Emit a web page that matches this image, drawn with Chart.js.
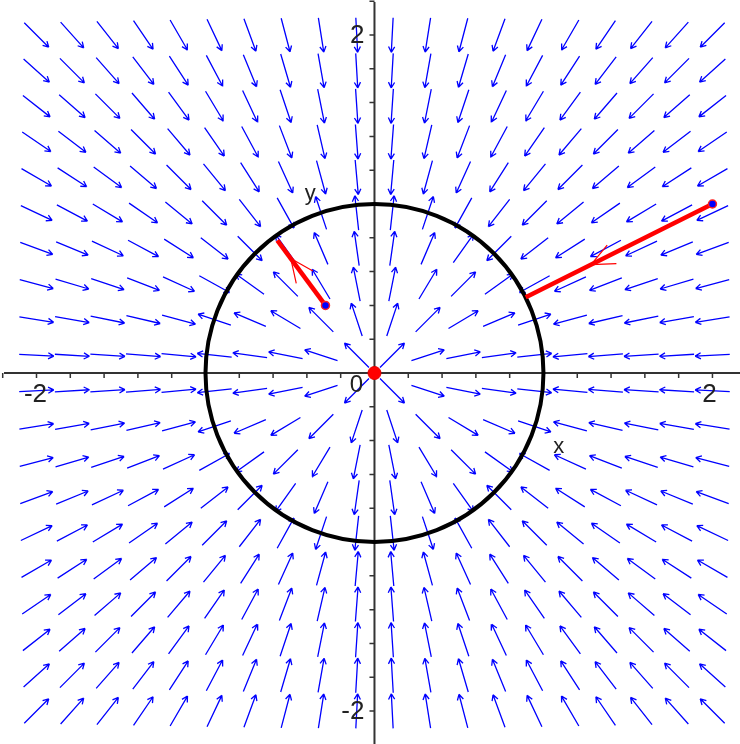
<!DOCTYPE html>
<html><head><meta charset="utf-8">
<script src="https://cdn.jsdelivr.net/npm/chart.js@4/dist/chart.umd.min.js"></script>
<style>html,body{margin:0;padding:0;background:#fff;overflow:hidden}#wrap{width:740px;height:744px;position:relative}</style>
</head><body><div id="wrap"><canvas id="c"></canvas></div>
<script>
// ---- data ----
const gridX = [-2, -1.789, -1.579, -1.368, -1.158, -0.947, -0.737, -0.526, -0.316, -0.105,
               0.105, 0.316, 0.526, 0.737, 0.947, 1.158, 1.368, 1.579, 1.789, 2];
const gridY = [-2, -1.789, -1.579, -1.368, -1.158, -0.947, -0.737, -0.526, -0.316, -0.105,
               0.105, 0.316, 0.526, 0.737, 0.947, 1.158, 1.368, 1.579, 1.789, 2];
const limitCycleRadius = 1;
const trajectoryA = [{x: 2, y: 1}, {x: 0.895, y: 0.448}];
const trajectoryB = [{x: -0.29, y: 0.4}, {x: -0.575, y: 0.785}];
const trajectoryArrowAt = [0.65, 0.72];
const startPoints = [{x: 2, y: 1}, {x: -0.29, y: 0.4}];
const equilibrium = [{x: 0, y: 0}];
const axisTicks = [-2.2, -2, -1.8, -1.6, -1.4, -1.2, -1, -0.8, -0.6, -0.4, -0.2,
                   0.2, 0.4, 0.6, 0.8, 1, 1.2, 1.4, 1.6, 1.8, 2, 2.2];
const xTickLabels = [-2, 2];
const yTickLabels = [-2, 2];
const axisNames = {x: 'x', y: 'y'};
const axisNamePos = {x: {x: 1.09, y: -0.44}, y: {x: -0.38, y: 1.06}};

// ---- direction field (dx/dt = x(1-r^2), dy/dt = y(1-r^2)), unit-length arrows ----
const ARROW = 0.205, BARB = 0.038, BARB_ANG = 0.5;
function addArrow(out, cx, cy, dx, dy, len, barb, ang, centered) {
  const tx = centered ? cx - dx * len / 2 : cx, ty = centered ? cy - dy * len / 2 : cy;
  const hx = centered ? cx + dx * len / 2 : cx, hy = centered ? cy + dy * len / 2 : cy;
  if (len > 0) { out.push({x: tx, y: ty}, {x: hx, y: hy}, {x: hx, y: null}); }
  for (const s of [1, -1]) {
    const c = Math.cos(s * ang), sn = Math.sin(s * ang);
    const bx = -(dx * c - dy * sn), by = -(dx * sn + dy * c);
    out.push({x: hx, y: hy}, {x: hx + bx * barb, y: hy + by * barb}, {x: hx, y: null});
  }
}
const fieldPts = [];
for (const gx of gridX) for (const gy of gridY) {
  const r = Math.hypot(gx, gy);
  const k = 1 - r * r;
  const dx = (gx * k) / Math.abs(r * k), dy = (gy * k) / Math.abs(r * k);
  addArrow(fieldPts, gx, gy, dx, dy, ARROW, BARB, BARB_ANG, true);
}
const redHeads = [];
[trajectoryA, trajectoryB].forEach((t, i) => {
  const f = trajectoryArrowAt[i];
  const px = t[0].x + (t[1].x - t[0].x) * f, py = t[0].y + (t[1].y - t[0].y) * f;
  const L = Math.hypot(t[1].x - t[0].x, t[1].y - t[0].y);
  addArrow(redHeads, px, py, (t[1].x - t[0].x) / L, (t[1].y - t[0].y) / L, 0, 0.15, 0.42, false);
});

const decor = {
  id: 'decor',
  afterDatasetDraw(chart, args) {
    if (args.index !== 0) return;
    const {ctx, scales: {x, y}} = chart;
    const x0 = x.getPixelForValue(0), y0 = y.getPixelForValue(0);
    ctx.save();
    ctx.strokeStyle = '#333'; ctx.lineWidth = 2;
    ctx.beginPath();
    ctx.moveTo(4, y0); ctx.lineTo(chart.width, y0);
    ctx.moveTo(x0, 2); ctx.lineTo(x0, chart.height);
    ctx.stroke();
    ctx.lineWidth = 1.5;
    ctx.beginPath();
    for (const t of axisTicks) {
      const px = x.getPixelForValue(t); ctx.moveTo(px, y0); ctx.lineTo(px, y0 + 5);
      const py = y.getPixelForValue(t); ctx.moveTo(x0 - 5, py); ctx.lineTo(x0, py);
    }
    ctx.stroke();
    ctx.fillStyle = '#222';
    ctx.font = '26px "Liberation Sans", Arial, sans-serif';
    ctx.textAlign = 'center'; ctx.textBaseline = 'top';
    for (const v of xTickLabels) ctx.fillText(String(v), x.getPixelForValue(v) - (v < 0 ? 1 : 3), y0 + 9);
    ctx.textAlign = 'right'; ctx.textBaseline = 'middle';
    for (const v of yTickLabels) ctx.fillText(String(v), x0 - 10, y.getPixelForValue(v) + 1);
    ctx.textAlign = 'center';
    ctx.font = '24px "Liberation Sans", Arial, sans-serif';
    ctx.fillText('0', x0 - 18, y0 + 12);
    ctx.font = '22px "Liberation Sans", Arial, sans-serif';
    ctx.fillText(axisNames.x, x.getPixelForValue(axisNamePos.x.x), y.getPixelForValue(axisNamePos.x.y));
    ctx.fillText(axisNames.y, x.getPixelForValue(axisNamePos.y.x), y.getPixelForValue(axisNamePos.y.y));
    // limit cycle
    const rx = x.getPixelForValue(limitCycleRadius) - x0;
    const ry = y0 - y.getPixelForValue(limitCycleRadius);
    ctx.strokeStyle = '#000'; ctx.lineWidth = 4;
    ctx.beginPath(); ctx.ellipse(x0, y0, rx, ry, 0, 0, Math.PI * 2); ctx.stroke();
    ctx.restore();
  }
};

new Chart(document.getElementById('c'), {
  type: 'scatter',
  data: {
    datasets: [
      {data: fieldPts, showLine: true, spanGaps: false, borderColor: '#0000ff', borderWidth: 1.3,
       pointRadius: 0, order: 10},
      {data: trajectoryA, showLine: true, borderColor: '#ff0000', borderWidth: 4.5, pointRadius: 0, order: 3},
      {data: trajectoryB, showLine: true, borderColor: '#ff0000', borderWidth: 4.5, pointRadius: 0, order: 3},
      {data: redHeads, showLine: true, spanGaps: false, borderColor: '#ff0000', borderWidth: 1.2, pointRadius: 0, order: 2},
      {data: startPoints, showLine: false, pointRadius: 4, pointBackgroundColor: '#0000ff',
       pointBorderColor: '#ff2020', pointBorderWidth: 1.5, order: 1},
      {data: equilibrium, showLine: false, pointRadius: 6.5, pointBackgroundColor: '#ff0000',
       pointBorderColor: '#e00000', pointBorderWidth: 1, order: 0}
    ]
  },
  options: {
    responsive: true, maintainAspectRatio: false, animation: false,
    layout: {padding: 0, autoPadding: false},
    plugins: {legend: {display: false}, tooltip: {enabled: false}},
    events: [],
    scales: {
      x: {type: 'linear', min: -2.216, max: 2.163, display: false},
      y: {type: 'linear', min: -2.195, max: 2.207, display: false}
    }
  },
  plugins: [decor]
});
</script>
</body></html>
